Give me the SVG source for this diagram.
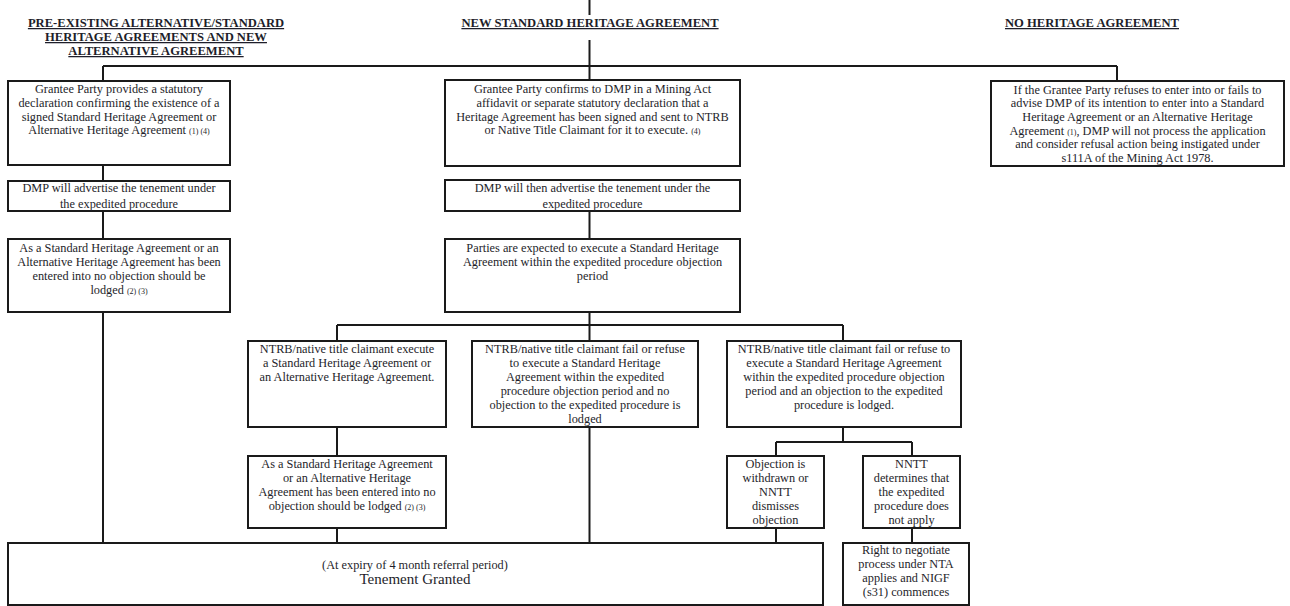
<svg xmlns="http://www.w3.org/2000/svg" width="1290" height="606" viewBox="0 0 1290 606">
<style>
.bg{fill:#ffffff}
.box{fill:#ffffff;stroke:#1a1a1a;stroke-width:2}
.ln{stroke:#1a1a1a;stroke-width:2;fill:none}
text{font-family:"Liberation Serif","Times New Roman",serif;fill:#1e1e2a;text-anchor:middle}
.t{font-size:12.3px}
.h{font-size:12.6px;font-weight:bold;text-decoration:underline}
.s{font-size:8px}
.big{font-size:15px}
</style>
<rect class="bg" x="0" y="0" width="1290" height="606"/>

<g id="titles">
  <text class="h" x="156" y="27">PRE-EXISTING ALTERNATIVE/STANDARD</text>
  <text class="h" x="156" y="41">HERITAGE AGREEMENTS AND NEW</text>
  <text class="h" x="156" y="55">ALTERNATIVE AGREEMENT</text>
  <text class="h" x="590" y="27">NEW STANDARD HERITAGE AGREEMENT</text>
  <text class="h" x="1092" y="27">NO HERITAGE AGREEMENT</text>
</g>

<g id="connectors">
  <line class="ln" x1="589.5" y1="0" x2="589.5" y2="15"/>
  <line class="ln" x1="589.5" y1="40" x2="589.5" y2="80"/>
  <line class="ln" x1="103" y1="66" x2="1117" y2="66"/>
  <line class="ln" x1="103" y1="66" x2="103" y2="81"/>
  <line class="ln" x1="1117" y1="66" x2="1117" y2="81"/>
  <line class="ln" x1="103" y1="165" x2="103" y2="181"/>
  <line class="ln" x1="103" y1="211" x2="103" y2="239"/>
  <line class="ln" x1="589.5" y1="211" x2="589.5" y2="239"/>
  <line class="ln" x1="103" y1="312" x2="103" y2="543"/>
  <line class="ln" x1="589.5" y1="312" x2="589.5" y2="325"/>
  <line class="ln" x1="337" y1="325" x2="843" y2="325"/>
  <line class="ln" x1="337" y1="325" x2="337" y2="341"/>
  <line class="ln" x1="589.5" y1="325" x2="589.5" y2="341"/>
  <line class="ln" x1="843" y1="325" x2="843" y2="341"/>
  <line class="ln" x1="337" y1="427" x2="337" y2="456"/>
  <line class="ln" x1="337" y1="528" x2="337" y2="543"/>
  <line class="ln" x1="589.5" y1="427" x2="589.5" y2="543"/>
  <line class="ln" x1="843" y1="427" x2="843" y2="442"/>
  <line class="ln" x1="776" y1="442" x2="912" y2="442"/>
  <line class="ln" x1="776" y1="442" x2="776" y2="456"/>
  <line class="ln" x1="912" y1="442" x2="912" y2="456"/>
  <line class="ln" x1="776" y1="528" x2="776" y2="543"/>
  <line class="ln" x1="912" y1="528" x2="912" y2="543"/>
</g>

<g id="n1">
  <rect class="box" x="8" y="81" width="222" height="84"/>
  <text class="t" x="119" y="93">Grantee Party provides a statutory</text>
  <text class="t" x="119" y="107">declaration confirming the existence of a</text>
  <text class="t" x="119" y="121">signed Standard Heritage Agreement or</text>
  <text class="t" x="119" y="134">Alternative Heritage Agreement <tspan class="s">(1) (4)</tspan></text>
</g>

<g id="n2">
  <rect class="box" x="445" y="80" width="295" height="86"/>
  <text class="t" x="592.5" y="93">Grantee Party confirms to DMP in a Mining Act</text>
  <text class="t" x="592.5" y="107">affidavit or separate statutory declaration that a</text>
  <text class="t" x="592.5" y="121">Heritage Agreement has been signed and sent to NTRB</text>
  <text class="t" x="592.5" y="134">or Native Title Claimant for it to execute. <tspan class="s">(4)</tspan></text>
</g>

<g id="n3">
  <rect class="box" x="991" y="81" width="293" height="85"/>
  <text class="t" x="1137.5" y="93.5">If the Grantee Party refuses to enter into or fails to</text>
  <text class="t" x="1137.5" y="107">advise DMP of its intention to enter into a Standard</text>
  <text class="t" x="1137.5" y="120.5">Heritage Agreement or an Alternative Heritage</text>
  <text class="t" x="1137.5" y="134.5">Agreement <tspan class="s">(1)</tspan>, DMP will not process the application</text>
  <text class="t" x="1137.5" y="148">and consider refusal action being instigated under</text>
  <text class="t" x="1137.5" y="161.5">s111A of the Mining Act 1978.</text>
</g>

<g id="n4">
  <rect class="box" x="8" y="181" width="222" height="30"/>
  <text class="t" x="119" y="192">DMP will advertise the tenement under</text>
  <text class="t" x="119" y="208">the expedited procedure</text>
</g>

<g id="n5">
  <rect class="box" x="445" y="180" width="295" height="31"/>
  <text class="t" x="592.5" y="192">DMP will then advertise the tenement under the</text>
  <text class="t" x="592.5" y="208">expedited procedure</text>
</g>

<g id="n6">
  <rect class="box" x="8" y="239" width="222" height="73"/>
  <text class="t" x="119" y="252">As a Standard Heritage Agreement or an</text>
  <text class="t" x="119" y="266">Alternative Heritage Agreement has been</text>
  <text class="t" x="119" y="280">entered into no objection should be</text>
  <text class="t" x="119" y="294">lodged <tspan class="s">(2) (3)</tspan></text>
</g>

<g id="n7">
  <rect class="box" x="445" y="239" width="295" height="73"/>
  <text class="t" x="592.5" y="252">Parties are expected to execute a Standard Heritage</text>
  <text class="t" x="592.5" y="266">Agreement within the expedited procedure objection</text>
  <text class="t" x="592.5" y="280">period</text>
</g>

<g id="n8">
  <rect class="box" x="248" y="341" width="198" height="86"/>
  <text class="t" x="347" y="353">NTRB/native title claimant execute</text>
  <text class="t" x="347" y="367">a Standard Heritage Agreement or</text>
  <text class="t" x="347" y="381">an Alternative Heritage Agreement.</text>
</g>

<g id="n9">
  <rect class="box" x="472" y="341" width="226" height="86"/>
  <text class="t" x="585" y="353">NTRB/native title claimant fail or refuse</text>
  <text class="t" x="585" y="367">to execute a Standard Heritage</text>
  <text class="t" x="585" y="381">Agreement within the expedited</text>
  <text class="t" x="585" y="395">procedure objection period and no</text>
  <text class="t" x="585" y="409">objection to the expedited procedure is</text>
  <text class="t" x="585" y="423">lodged</text>
</g>

<g id="n10">
  <rect class="box" x="727" y="341" width="234" height="86"/>
  <text class="t" x="844" y="353">NTRB/native title claimant fail or refuse to</text>
  <text class="t" x="844" y="367">execute a Standard Heritage Agreement</text>
  <text class="t" x="844" y="381">within the expedited procedure objection</text>
  <text class="t" x="844" y="395">period and an objection to the expedited</text>
  <text class="t" x="844" y="409">procedure is lodged.</text>
</g>

<g id="n11">
  <rect class="box" x="248" y="456" width="198" height="72"/>
  <text class="t" x="347" y="468">As a Standard Heritage Agreement</text>
  <text class="t" x="347" y="482">or an Alternative Heritage</text>
  <text class="t" x="347" y="496">Agreement has been entered into no</text>
  <text class="t" x="347" y="510">objection should be lodged <tspan class="s">(2) (3)</tspan></text>
</g>

<g id="n12">
  <rect class="box" x="727" y="456" width="97" height="72"/>
  <text class="t" x="775.5" y="468">Objection is</text>
  <text class="t" x="775.5" y="482">withdrawn or</text>
  <text class="t" x="775.5" y="496">NNTT</text>
  <text class="t" x="775.5" y="510">dismisses</text>
  <text class="t" x="775.5" y="524">objection</text>
</g>

<g id="n13">
  <rect class="box" x="863" y="456" width="97" height="72"/>
  <text class="t" x="911.5" y="468">NNTT</text>
  <text class="t" x="911.5" y="482">determines that</text>
  <text class="t" x="911.5" y="496">the expedited</text>
  <text class="t" x="911.5" y="510">procedure does</text>
  <text class="t" x="911.5" y="524">not apply</text>
</g>

<g id="n14">
  <rect class="box" x="8" y="543" width="815" height="62"/>
  <text class="t" x="415" y="569">(At expiry of 4 month referral period)</text>
  <text class="big" x="415" y="584">Tenement Granted</text>
</g>

<g id="n15">
  <rect class="box" x="843" y="543" width="126" height="62"/>
  <text class="t" x="906" y="554">Right to negotiate</text>
  <text class="t" x="906" y="568">process under NTA</text>
  <text class="t" x="906" y="582">applies and NIGF</text>
  <text class="t" x="906" y="596">(s31) commences</text>
</g>
</svg>
